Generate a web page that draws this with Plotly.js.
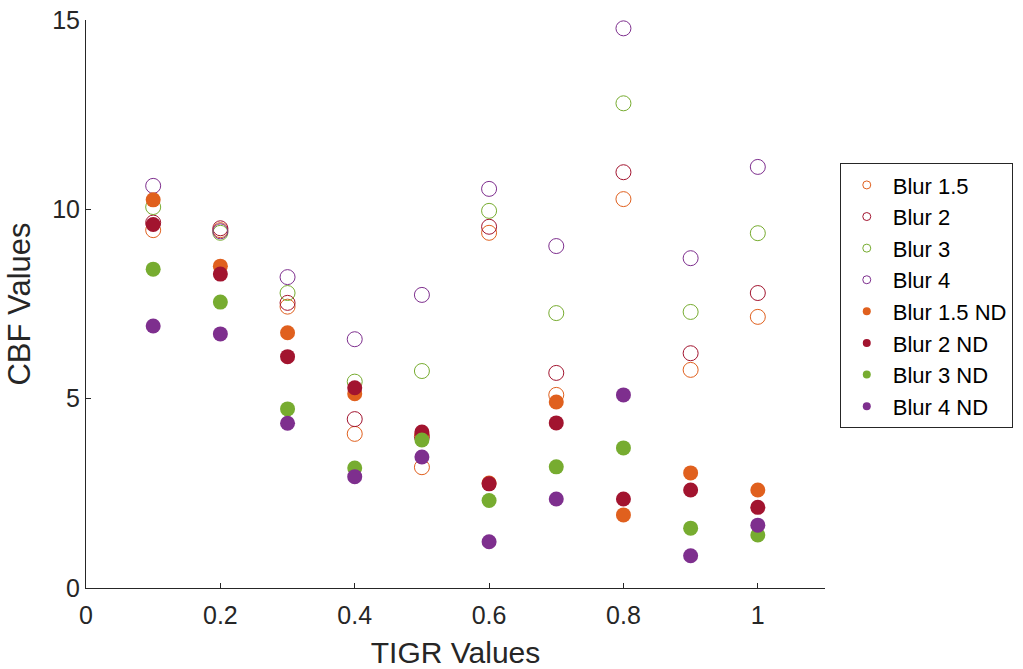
<!DOCTYPE html>
<html>
<head>
<meta charset="utf-8">
<script src="https://cdn.plot.ly/plotly-3.0.1.min.js"></script>
<style>html,body{margin:0;padding:0;background:#fff;}#chart{width:1023px;height:669px;}</style>
</head>
<body>
<div id="chart"></div>
<script>
const tigr = [0.1, 0.2, 0.3, 0.4, 0.5, 0.6, 0.7, 0.8, 0.9, 1.0];
const blur15 = [9.45, 9.45, 7.43, 4.07, 3.19, 9.38, 5.10, 10.27, 5.76, 7.16];
const blur2 = [9.65, 9.50, 7.53, 4.46, 4.00, 9.54, 5.68, 10.98, 6.20, 7.79];
const blur3 = [10.06, 9.38, 7.79, 5.45, 5.73, 9.96, 7.26, 12.80, 7.29, 9.37];
const blur4 = [10.62, 9.42, 8.21, 6.57, 7.74, 10.54, 9.03, 14.78, 8.71, 11.12];
const blur15ND = [10.25, 8.50, 6.74, 5.13, 4.05, 2.77, 4.91, 1.93, 3.04, 2.59];
const blur2ND = [9.60, 8.29, 6.11, 5.29, 4.12, 2.75, 4.36, 2.35, 2.59, 2.13];
const blur3ND = [8.42, 7.55, 4.73, 3.17, 3.91, 2.31, 3.20, 3.70, 1.58, 1.40];
const blur4ND = [6.92, 6.71, 4.35, 2.94, 3.46, 1.22, 2.35, 5.10, 0.85, 1.66];

const names = ["Blur 1.5", "Blur 2", "Blur 3", "Blur 4", "Blur 1.5 ND", "Blur 2 ND", "Blur 3 ND", "Blur 4 ND"];
const series = [blur15, blur2, blur3, blur4, blur15ND, blur2ND, blur3ND, blur4ND];
const colors = ["#E0601E", "#A2142F", "#77AC30", "#7E2F8E", "#E0601E", "#A2142F", "#77AC30", "#7E2F8E"];
const xTicks = [0, 0.2, 0.4, 0.6, 0.8, 1];
const xTickText = ["0", "0.2", "0.4", "0.6", "0.8", "1"];
const yTicks = [0, 5, 10, 15];

const traces = [];
series.forEach((ys, i) => {
  const open = i < 4;
  traces.push({
    type: "scatter", mode: "markers", x: tigr, y: ys, name: names[i],
    showlegend: false, hoverinfo: "skip", cliponaxis: false,
    marker: open
      ? {symbol: "circle-open", size: 15, color: colors[i], line: {width: 1, color: colors[i]}}
      : {symbol: "circle", size: 15, color: colors[i], line: {width: 0}}
  });
});
series.forEach((ys, i) => {
  const open = i < 4;
  traces.push({
    type: "scatter", mode: "markers", x: [null], y: [null], name: names[i],
    showlegend: true, hoverinfo: "skip",
    marker: open
      ? {symbol: "circle-open", size: 8, color: colors[i], line: {width: 1, color: colors[i]}}
      : {symbol: "circle", size: 8, color: colors[i], line: {width: 0}}
  });
});

const font = "Liberation Sans, Arial, Helvetica, sans-serif";
const layout = {
  width: 1023, height: 669,
  margin: {l: 86, r: 198, t: 20, b: 81, autoexpand: false},
  paper_bgcolor: "#fff", plot_bgcolor: "#fff",
  font: {family: font, color: "#262626", size: 24},
  showlegend: true,
  xaxis: {
    range: [0, 1.1], tickvals: xTicks, ticktext: xTickText,
    showgrid: false, zeroline: false, showline: true, linecolor: "#262626", linewidth: 1,
    ticks: "inside", ticklen: 5, tickcolor: "#262626", mirror: false,
    ticklabelstandoff: 5,
    tickfont: {size: 25, family: font, color: "#262626"},
    title: {text: "TIGR Values", font: {size: 30, family: font, color: "#262626"}, standoff: 14}
  },
  yaxis: {
    range: [0, 15], tickvals: yTicks,
    showgrid: false, zeroline: false, showline: true, linecolor: "#262626", linewidth: 1,
    ticks: "inside", ticklen: 5, tickcolor: "#262626",
    tickfont: {size: 25, family: font, color: "#262626"},
    title: {text: "CBF Values", font: {size: 31, family: font, color: "#262626"}, standoff: 12}
  },
  legend: {
    x: 1.02, xanchor: "left", y: 0.748, yanchor: "top",
    bgcolor: "#fff", bordercolor: "#262626", borderwidth: 1,
    font: {size: 22, family: font, color: "#000"},
    tracegroupgap: 0, itemwidth: 42
  }
};
Plotly.newPlot("chart", traces, layout, {staticPlot: true, displayModeBar: false});
</script>
</body>
</html>
